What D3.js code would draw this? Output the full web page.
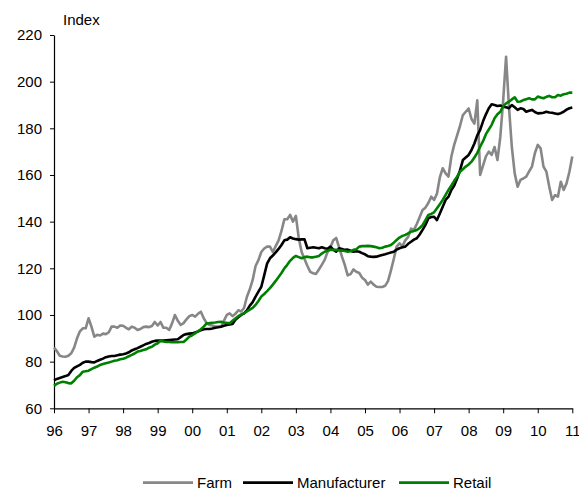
<!DOCTYPE html>
<html>
<head>
<meta charset="utf-8">
<script src="https://cdnjs.cloudflare.com/ajax/libs/d3/7.8.5/d3.min.js"></script>
<style>
  html, body { margin: 0; padding: 0; background: #fff; }
  svg { display: block; }
  text { font-family: "Liberation Sans", Arial, sans-serif; fill: #000; }
</style>
</head>
<body>
<svg id="chart" width="579" height="488"></svg>
<script>
// ---- Data (monthly, Jan 1996 .. Jan 2011) ----
const startYear = 1996;
const seriesNames = ["Farm", "Manufacturer", "Retail"];
const xTickYears = [1996,1997,1998,1999,2000,2001,2002,2003,2004,2005,2006,2007,2008,2009,2010,2011];
const xTickLabels = ["96","97","98","99","00","01","02","03","04","05","06","07","08","09","10","11"];
const yTicks = [60, 80, 100, 120, 140, 160, 180, 200, 220];

const farm = [
  86, 84.5, 82.5, 82.2, 82.1, 82.5, 83.6, 86, 90, 93, 94.3, 94.3,          // 1996
  98.6, 95, 90.7, 91.5, 91.2, 92, 91.8, 92.5, 95, 95, 94.5, 95.5,          // 1997
  95.4, 94.5, 93.9, 95, 94.5, 93.6, 94, 94.8, 95, 94.8, 95.3, 97,          // 1998
  95.5, 97, 94.5, 94.5, 93.6, 96.4, 100, 97.5, 95.7, 96.5, 98.1, 99.5,     // 1999
  100, 99.3, 100.5, 101.4, 98.6, 96.5, 95.7, 95.5, 95, 95, 95, 97.5,       // 2000
  100, 100.7, 99.5, 100.5, 102, 101.5, 103, 107.8, 111, 115, 121, 123.5,   // 2001
  127, 128.5, 129.3, 129.3, 127, 129.5, 132, 136, 141, 141, 142.9, 140,    // 2002
  142.5, 133, 127, 124, 121, 118.5, 117.9, 117.6, 119.5, 121.5, 123.6, 127,// 2003
  129, 132, 133, 129, 125, 121.4, 117, 117.5, 119.5, 118.5, 118, 116,      // 2004
  115, 113, 114.3, 113, 112.1, 112, 112, 112.5, 114.5, 119, 124, 129.3,    // 2005
  130.7, 129.5, 132, 133.5, 137, 136.5, 139, 142, 145, 146, 148, 150.7,    // 2006
  149.3, 152, 159, 162.9, 160.7, 159.3, 167.9, 173, 177, 181, 185.7, 187.1,// 2007
  188.5, 184, 182, 192, 160, 164, 168, 170, 168.6, 172, 166.4, 176.4,      // 2008
  192, 210.7, 189.3, 172, 160.7, 155, 157.9, 158.5, 159.3, 161.5, 163.6, 169.3, // 2009
  172.9, 171.4, 163.6, 161.4, 155, 149.3, 151.4, 150.7, 157.1, 153.6, 156.4, 161.4, // 2010
  167.9                                                                      // 2011
];

const manufacturer = [
  72, 72.6, 73, 73.4, 73.8, 74.3, 76, 77.3, 78, 78.6, 79.5, 80,            // 1996
  80, 79.8, 79.7, 80.3, 80.8, 81.3, 81.9, 82.2, 82.4, 82.4, 82.7, 83,      // 1997
  83.2, 83.5, 84, 84.8, 85.3, 85.8, 86.4, 87, 87.6, 88, 88.5, 88.9,        // 1998
  89, 89, 89, 89.2, 89.3, 89.4, 89.5, 89.6, 90.5, 91.4, 91.8, 92,          // 1999
  92.1, 92.5, 92.9, 93.5, 93.9, 94, 94, 94.2, 94.5, 94.7, 95, 95.4,        // 2000
  95.7, 95.9, 96.1, 97.9, 99, 100, 100.7, 102, 104, 105.5, 107.9, 110,     // 2001
  112.1, 117, 122, 124.3, 125.5, 126.8, 128.3, 130, 132, 132.3, 133.3, 132.8, // 2002
  132.5, 132.3, 132.4, 132.4, 128.6, 128.8, 129, 128.8, 128.6, 129, 128.6, 128.4, // 2003
  129.3, 128, 127.1, 128.6, 128.3, 127.9, 128, 127.5, 127.1, 127.3, 127.1, 126.5, // 2004
  126, 125.2, 125, 124.9, 125, 125.4, 125.7, 126, 126.4, 126.8, 127.1, 128, // 2005
  128.6, 129, 129.3, 130.5, 131.4, 132.3, 132.9, 134.5, 136.5, 138.6, 141.4, 142, // 2006
  142.1, 140.7, 143.5, 146.4, 149.3, 150.7, 153.6, 155.5, 158.5, 162, 166.4, 167.5, // 2007
  168.6, 170.7, 173.5, 177, 179.3, 183, 186, 188.6, 190.3, 190, 189.6, 189.8, // 2008
  189.3, 189, 188.6, 190, 189, 187.9, 188.6, 188.3, 187.1, 187.5, 187.9, 187, // 2009
  186.4, 186.5, 186.7, 187.1, 186.8, 186.7, 186.4, 186.1, 186.5, 187.1, 188, 188.6, // 2010
  188.9                                                                      // 2011
];

const retail = [
  69.6, 70.5, 71, 71.4, 71.2, 70.8, 70.7, 71.8, 73.3, 74.2, 75.7, 75.9,    // 1996
  76.1, 76.8, 77.4, 77.9, 78.6, 79, 79.3, 79.6, 80, 80.4, 80.6, 81,        // 1997
  81.2, 81.7, 82.3, 82.9, 83.5, 84.3, 84.6, 85, 85.3, 86, 86.4, 87.3,      // 1998
  87.9, 88.9, 88.6, 88.4, 88.4, 88.3, 88.3, 88.3, 88.4, 88.4, 89.5, 90.7,  // 1999
  91.3, 92.1, 93, 93.9, 95, 96.4, 96.5, 96.7, 96.8, 97, 97.1, 96.8,        // 2000
  96.6, 96.5, 97.5, 98.5, 99.5, 100.2, 100.7, 101.5, 102.3, 103, 104.3, 106, // 2001
  107.9, 109, 110.2, 111.5, 113, 114.6, 116.3, 118, 120, 121.5, 123.2, 124.5, // 2002
  125.3, 124.8, 124.3, 124.8, 125, 124.7, 124.7, 125, 125.3, 126.3, 127.1, 127.5, // 2003
  127.9, 127.9, 127.9, 127.7, 127.6, 127.4, 127.1, 127.3, 127.9, 128.2, 129.3, 129.5, // 2004
  129.5, 129.6, 129.5, 129.3, 129, 128.6, 128.8, 129.3, 129.6, 130, 131, 132.1, // 2005
  133.2, 133.9, 134.3, 135, 135.7, 136, 136.4, 137.3, 138.5, 140.7, 142.9, 143.3, // 2006
  144, 145.7, 147.5, 149.3, 151.5, 153.6, 155.5, 157.5, 159.3, 161.4, 162.5, 163.6, // 2007
  164.5, 165.7, 167.5, 169.5, 172.1, 174.5, 177.5, 179.5, 181.5, 184.3, 186, 187.1, // 2008
  189.5, 190.7, 191.4, 192.4, 193.3, 191.4, 191.5, 192.1, 192.5, 192.9, 192.4, 192.4, // 2009
  193.6, 193.2, 192.9, 193.5, 193.9, 193.3, 193.3, 194.3, 194, 194.6, 194.8, 195.3, // 2010
  195.3                                                                      // 2011
];

const colors = { Farm: "#878787", Manufacturer: "#000000", Retail: "#008000" };

// ---- Layout ----
const svg = d3.select("#chart");
const plotLeft = 54, plotRight = 572.3, plotTop = 35, plotBottom = 408.3;

const x = d3.scaleLinear().domain([1996, 2011]).range([plotLeft, plotRight]);
const y = d3.scaleLinear().domain([60, 220]).range([plotBottom, plotTop]);

// Axes
const yAxis = d3.axisLeft(y).tickValues(yTicks).tickSize(4).tickPadding(8)
  .tickSizeOuter(0).tickFormat(d3.format("d"));
const gy = svg.append("g").attr("transform", `translate(${plotLeft},0)`).call(yAxis);
gy.select(".domain").attr("stroke", "#000").attr("stroke-width", 1.2);
gy.selectAll(".tick line").attr("stroke", "#000").attr("stroke-width", 1);
gy.selectAll(".tick text").style("font-size", "15px").attr("fill", "#000")
  .style("font-family", "'Liberation Sans', Arial, sans-serif");

const xAxis = d3.axisBottom(x).tickValues(xTickYears).tickSize(5).tickPadding(12)
  .tickSizeOuter(0)
  .tickFormat((d, i) => xTickLabels[i]);
const gx = svg.append("g").attr("transform", `translate(0,${plotBottom})`).call(xAxis);
gx.select(".domain").attr("stroke", "#000").attr("stroke-width", 1.2);
gx.selectAll(".tick line").attr("stroke", "#000").attr("stroke-width", 1);
gx.selectAll(".tick text").style("font-size", "15px").attr("fill", "#000")
  .style("font-family", "'Liberation Sans', Arial, sans-serif");

// Axis title
svg.append("text").attr("x", 63).attr("y", 25).style("font-size", "15px").text("Index");

// Lines
const line = d3.line()
  .x((d, i) => x(startYear + i / 12))
  .y(d => y(d));

const data = { Farm: farm, Manufacturer: manufacturer, Retail: retail };
seriesNames.forEach(name => {
  svg.append("path")
    .datum(data[name])
    .attr("fill", "none")
    .attr("stroke", colors[name])
    .attr("stroke-width", 2.6)
    .attr("stroke-linejoin", "round")
    .attr("d", line);
});

// Legend
const legendItems = [
  { name: "Farm", x1: 143, x2: 193, tx: 197 },
  { name: "Manufacturer", x1: 243, x2: 293, tx: 297 },
  { name: "Retail", x1: 399, x2: 449, tx: 453 }
];
const lg = svg.append("g");
legendItems.forEach(it => {
  lg.append("line").attr("x1", it.x1).attr("x2", it.x2).attr("y1", 482.7).attr("y2", 482.7)
    .attr("stroke", colors[it.name]).attr("stroke-width", 2.8);
  lg.append("text").attr("x", it.tx).attr("y", 488).style("font-size", "15px").text(it.name);
});
</script>
</body>
</html>
